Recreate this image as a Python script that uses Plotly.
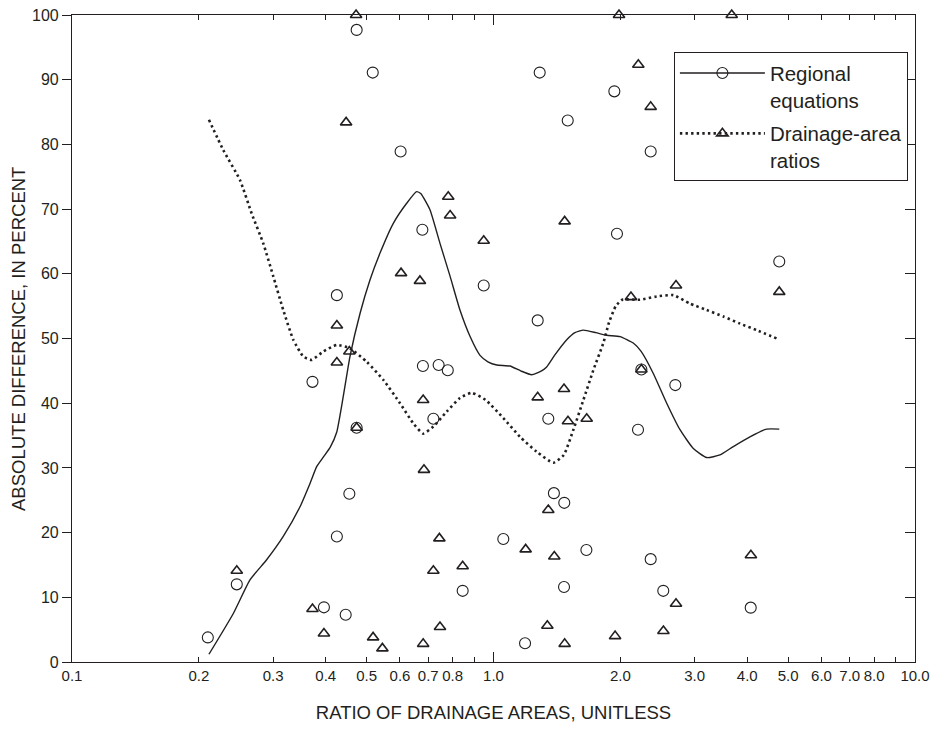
import plotly.graph_objects as go

# ---- data ----
reg_x = [0.210, 0.246, 0.372, 0.396, 0.425, 0.425, 0.446, 0.455, 0.4735, 0.4735,
         0.517, 0.602, 0.678, 0.680, 0.720, 0.741, 0.779, 0.845, 0.948, 1.055,
         1.188, 1.273, 1.287, 1.349, 1.391, 1.470, 1.472, 1.500, 1.661, 1.935,
         1.963, 2.202, 2.243, 2.36, 2.36, 2.528, 2.70, 4.076, 4.764]
reg_y = [3.8, 12.0, 43.3, 8.45, 56.7, 19.4, 7.3, 26.0, 97.7, 36.2,
         91.1, 78.9, 66.8, 45.75, 37.6, 45.9, 45.1, 11.0, 58.2, 19.0,
         2.9, 52.8, 91.1, 37.6, 26.1, 11.6, 24.6, 83.7, 17.3, 88.2,
         66.2, 35.9, 45.2, 78.9, 15.9, 11.0, 42.8, 8.4, 61.9]

dar_x = [0.246, 0.372, 0.396, 0.425, 0.425, 0.447, 0.455, 0.472, 0.4735, 0.518,
         0.545, 0.6035, 0.669, 0.681, 0.684, 0.681, 0.720, 0.744, 0.7465, 0.781,
         0.789, 0.845, 0.948, 1.192, 1.273, 1.342, 1.349, 1.394, 1.470, 1.475,
         1.475, 1.502, 1.664, 1.943, 1.985, 2.119, 2.206, 2.243, 2.36, 2.53,
         2.71, 2.71, 3.674, 4.08, 4.764]
dar_y = [14.1, 8.2, 4.4, 46.3, 52.0, 83.4, 48.0, 100, 36.2, 3.8,
         2.1, 60.1, 58.9, 40.5, 29.7, 2.8, 14.1, 19.1, 5.4, 71.9,
         69.0, 14.8, 65.1, 17.4, 40.9, 5.6, 23.5, 16.3, 42.2, 68.1,
         2.8, 37.2, 37.6, 4.0, 100, 56.4, 92.3, 45.2, 85.8, 4.8,
         58.2, 9.0, 100, 16.5, 57.2]

reg_curve_x = [0.2113, 0.2414, 0.2644, 0.2896, 0.3171, 0.3475, 0.367, 0.3806, 0.395, 0.410,
               0.4246, 0.440, 0.4565, 0.4825, 0.509, 0.538, 0.5785, 0.6223, 0.657, 0.672,
               0.7067, 0.7465, 0.789, 0.8326, 0.880, 0.929, 0.970, 1.018, 1.094, 1.160,
               1.232, 1.300, 1.337, 1.400, 1.492, 1.560, 1.634, 1.750, 1.856, 1.996,
               2.146, 2.240, 2.394, 2.576, 2.770, 2.979, 3.204, 3.446, 3.707, 4.059,
               4.447, 4.764]
reg_curve_y = [1.2, 7.5, 12.7, 15.8, 19.4, 24.0, 27.6, 30.2, 31.7, 33.2,
               35.5, 41.0, 47.2, 53.9, 59.0, 63.2, 67.8, 70.9, 72.7, 72.4,
               69.9, 64.7, 59.6, 54.4, 50.3, 47.4, 46.4, 45.9, 45.75, 45.0,
               44.4, 45.0, 45.6, 47.5, 49.8, 50.9, 51.3, 50.9, 50.5, 50.3,
               49.3, 48.0, 44.6, 40.0, 35.9, 33.0, 31.6, 32.0, 33.3, 34.8,
               36.0, 36.0]

dar_curve_x = [0.2113, 0.2286, 0.2503, 0.2669, 0.2843, 0.3003, 0.3171, 0.335, 0.3539, 0.370,
               0.395, 0.4246, 0.456, 0.5004, 0.5477, 0.600, 0.645, 0.681, 0.720, 0.7745,
               0.8326, 0.888, 0.958, 1.055, 1.156, 1.266, 1.387, 1.468, 1.547, 1.634,
               1.725, 1.822, 1.880, 1.950, 2.021, 2.226, 2.439, 2.671, 2.925, 3.204,
               3.51, 3.845, 4.21, 4.697]
dar_curve_y = [83.8, 79.1, 74.5, 69.3, 64.7, 59.6, 54.4, 49.8, 47.2, 46.7,
               48.0, 49.0, 48.5, 46.4, 43.6, 40.0, 36.9, 35.3, 36.4, 38.7,
               40.8, 41.6, 40.5, 37.7, 34.8, 32.5, 30.8, 32.0, 35.9, 40.5,
               45.1, 49.3, 52.5, 55.0, 56.0, 56.0, 56.5, 56.7, 55.4, 54.4,
               53.4, 52.3, 51.3, 50.0]

x_tickvals = [0.1, 0.2, 0.3, 0.4, 0.5, 0.6, 0.7, 0.8, 0.9, 1.0, 2, 3, 4, 5, 6, 7, 8, 9, 10]
x_ticktext = ["0.1", "0.2", "0.3", "0.4", "0.5", "0.6", "0.7", "0.8", "", "1.0",
              "2.0", "3.0", "4.0", "5.0", "6.0", "7.0", "8.0", "", "10.0"]
x_major = [0.1, 1.0, 10]
y_tickvals = [0, 10, 20, 30, 40, 50, 60, 70, 80, 90, 100]

INK = "#231f20"
FONT = "Liberation Sans, Arial, sans-serif"
DOTS = "2.4px,3.2px"

fig = go.Figure()

fig.add_trace(go.Scatter(x=reg_curve_x, y=reg_curve_y, mode="lines",
                         line=dict(color=INK, width=1.4, shape="spline", smoothing=0.5),
                         showlegend=False, hoverinfo="skip"))
fig.add_trace(go.Scatter(x=dar_curve_x, y=dar_curve_y, mode="lines",
                         line=dict(color=INK, width=2.6, dash=DOTS, shape="spline", smoothing=0.5),
                         showlegend=False, hoverinfo="skip"))
fig.add_trace(go.Scatter(x=reg_x, y=reg_y, mode="markers",
                         marker=dict(symbol="circle-open", size=11, color=INK, line=dict(width=1.1, color=INK)),
                         showlegend=False, cliponaxis=False))
fig.add_trace(go.Scatter(x=dar_x, y=dar_y, mode="markers",
                         marker=dict(symbol="triangle-up-open", size=10, color=INK, line=dict(width=1.6, color=INK)),
                         showlegend=False, cliponaxis=False))

# legend entries
fig.add_trace(go.Scatter(x=[None], y=[None], mode="lines+markers", name="Regional<br>equations",
                         legendgroup="a",
                         line=dict(color=INK, width=1.4),
                         marker=dict(symbol="circle-open", size=11, color=INK, line=dict(width=1.1, color=INK))))
fig.add_trace(go.Scatter(x=[None], y=[None], mode="lines+markers", name="Drainage-area<br>ratios",
                         legendgroup="b",
                         line=dict(color=INK, width=2.6, dash=DOTS),
                         marker=dict(symbol="triangle-up-open", size=10, color=INK, line=dict(width=1.6, color=INK))))

# helper trace for secondary axes (long major x ticks, inside right y ticks)
fig.add_trace(go.Scatter(x=[None], y=[None], xaxis="x2", yaxis="y2", showlegend=False, hoverinfo="skip"))

fig.update_layout(
    width=930, height=731,
    margin=dict(l=72, r=15, t=15, b=69),
    paper_bgcolor="white", plot_bgcolor="white",
    font=dict(family=FONT, size=16, color=INK),
    xaxis=dict(type="log", range=[-1, 1], tickmode="array", tickvals=x_tickvals, ticktext=x_ticktext,
               ticks="inside", ticklen=5, tickwidth=1, tickcolor=INK, tickangle=0,
               ticklabeloverflow="allow", automargin=False,
               showline=True, linecolor=INK, linewidth=1.2, mirror="ticks", showgrid=False, zeroline=False,
               tickfont=dict(size=15),
               title=dict(text="RATIO OF DRAINAGE AREAS, UNITLESS", font=dict(size=18.5), standoff=22)),
    yaxis=dict(range=[0, 100], tickmode="array", tickvals=y_tickvals,
               ticks="outside", ticklen=9, tickwidth=1, tickcolor=INK,
               ticklabeloverflow="allow", automargin=False,
               showline=True, linecolor=INK, linewidth=1.2, mirror=True, showgrid=False, zeroline=False,
               tickfont=dict(size=16)),
    xaxis2=dict(type="log", range=[-1, 1], overlaying="x", side="bottom", tickmode="array", tickvals=x_major,
                ticks="inside", ticklen=10, tickwidth=1, tickcolor=INK, mirror="ticks", automargin=False,
                showticklabels=False, showline=False, showgrid=False, zeroline=False),
    yaxis2=dict(range=[0, 100], overlaying="y", side="right", tickmode="array", tickvals=y_tickvals,
                ticks="inside", ticklen=10, tickwidth=1, tickcolor=INK, automargin=False,
                showticklabels=False, showline=False, showgrid=False, zeroline=False),
    legend=dict(x=0.714, y=0.9425, xanchor="left", yanchor="top", valign="top",
                bordercolor=INK, borderwidth=1, bgcolor="white",
                font=dict(size=20.5, color=INK), itemwidth=85, tracegroupgap=4),
    showlegend=True,
    annotations=[dict(text="ABSOLUTE DIFFERENCE, IN PERCENT", xref="paper", yref="paper",
                      x=-0.0635, y=0.5, xanchor="center", yanchor="middle", textangle=-90,
                      showarrow=False, font=dict(size=18.5, color=INK))],
)

# remove the default page margin so the 930x731 figure fills the window exactly
fig.write_html("out.html", config={"displayModeBar": False},
               post_script="document.body.style.margin='0';document.body.style.overflow='hidden';")
